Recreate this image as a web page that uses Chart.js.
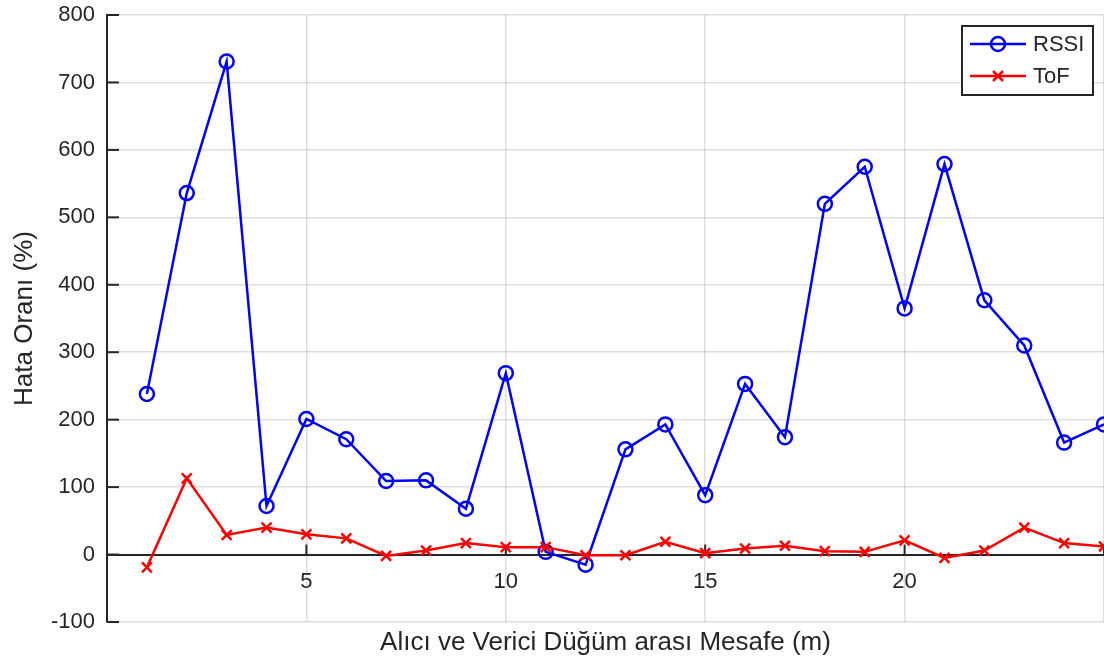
<!DOCTYPE html>
<html>
<script src="https://cdn.jsdelivr.net/npm/chart.js@4/dist/chart.umd.min.js"></script>
<body style="margin:0;background:#fff">

<div style="width:1104px;height:664px"><canvas id="myChart" width="1104" height="664"></canvas></div>

<script>
var distances = [1,2,3,4,5,6,7,8,9,10,11,12,13,14,15,16,17,18,19,20,21,22,23,24,25];
var rssiErr = [238,536,731,72,201,171,109,110,68,269,4,-15,156,193,88,253,174,520,575,365,579,377,310,166,193];
var tofErr = [-19,113,29,40,30,24,-2,6,17,11,11,-1,-1,19,2,9,13,5,4,21,-5,6,40,17,12];
var xTickLabels = [5,10,15,20];
var xTitle = "Alıcı ve Verici Düğüm arası Mesafe (m)";
var yTitle = "Hata Oranı (%)";

var textColor = "#262626";
var font = "'Liberation Sans', Arial, sans-serif";

function points(vals) {
  return vals.map((v, i) => ({x: distances[i], y: v}));
}

// inward ticks, axis titles and the boxed legend (MATLAB style)
var extras = {
  id: "extras",
  beforeDatasetsDraw(chart) {
    var ctx = chart.ctx, a = chart.chartArea;
    var xs = chart.scales.x, ys = chart.scales.y;
    ctx.save();
    ctx.strokeStyle = textColor;
    ctx.lineWidth = 2;
    var y0 = ys.getPixelForValue(0);
    xTickLabels.concat([25]).forEach((t) => {
      var px = xs.getPixelForValue(t);
      ctx.beginPath(); ctx.moveTo(px, y0); ctx.lineTo(px, y0 - 10); ctx.stroke();
    });
    ys.ticks.forEach((t) => {
      var py = ys.getPixelForValue(t.value);
      ctx.beginPath(); ctx.moveTo(a.left, py); ctx.lineTo(a.left + 12, py); ctx.stroke();
    });
    ctx.restore();
  },
  afterDraw(chart) {
    var ctx = chart.ctx, a = chart.chartArea;
    ctx.save();
    ctx.fillStyle = textColor;
    ctx.font = "26px " + font;
    ctx.textAlign = "center";
    ctx.textBaseline = "middle";
    ctx.fillText(xTitle, (a.left + a.right) / 2, 643);
    ctx.translate(25, (a.top + a.bottom) / 2);
    ctx.rotate(-Math.PI / 2);
    ctx.fillText(yTitle, 0, 0);
    ctx.restore();

    // legend
    ctx.save();
    ctx.fillStyle = "#fff";
    ctx.fillRect(962, 26, 131, 69);
    ctx.strokeStyle = textColor;
    ctx.lineWidth = 2;
    ctx.strokeRect(962, 26, 131, 69);
    chart.data.datasets.forEach((ds, i) => {
      var ly = i === 0 ? 44 : 76;
      ctx.strokeStyle = ds.borderColor;
      ctx.lineWidth = 2.5;
      ctx.beginPath(); ctx.moveTo(970, ly); ctx.lineTo(1026, ly); ctx.stroke();
      ctx.beginPath();
      if (ds.pointStyle === "circle") {
        ctx.arc(998, ly, 7, 0, Math.PI * 2);
      } else {
        ctx.moveTo(993, ly - 5); ctx.lineTo(1003, ly + 5);
        ctx.moveTo(993, ly + 5); ctx.lineTo(1003, ly - 5);
      }
      ctx.stroke();
      ctx.fillStyle = textColor;
      ctx.font = "22px " + font;
      ctx.textAlign = "left";
      ctx.textBaseline = "middle";
      ctx.fillText(ds.label, 1033, ly + 1);
    });
    ctx.restore();
  }
};

var chart = new Chart("myChart", {
  type: "line",
  data: {
    datasets: [{
      label: "RSSI",
      data: points(rssiErr),
      borderColor: "#0000ff",
      backgroundColor: "rgba(0,0,0,0)",
      borderWidth: 2.5,
      pointStyle: "circle",
      pointRadius: 7,
      pointBorderWidth: 2.5,
      order: 1
    }, {
      label: "ToF",
      data: points(tofErr),
      borderColor: "#ff0000",
      backgroundColor: "rgba(0,0,0,0)",
      borderWidth: 2.5,
      pointStyle: "crossRot",
      pointRadius: 7,
      pointBorderWidth: 2.5,
      order: 0
    }]
  },
  options: {
    responsive: false,
    animation: false,
    layout: {autoPadding: false, padding: {left: 0, top: 15, right: 0, bottom: 42}},
    plugins: {legend: {display: false}, tooltip: {enabled: false}},
    scales: {
      x: {
        type: "linear",
        position: {y: 0},
        min: 0,
        max: 25,
        grid: {color: "rgba(38,38,38,0.15)", lineWidth: 1.5, drawTicks: false},
        border: {color: textColor, width: 2},
        ticks: {
          stepSize: 5,
          autoSkip: false,
          maxRotation: 0,
          padding: 14,
          color: textColor,
          font: {family: font, size: 22},
          callback: (v) => xTickLabels.includes(v) ? String(v) : ""
        },
        afterFit: (s) => { s.paddingLeft = 0; s.paddingRight = 0; }
      },
      y: {
        min: -100,
        max: 800,
        grid: {color: "rgba(38,38,38,0.15)", lineWidth: 1.5, drawTicks: false},
        border: {color: textColor, width: 2},
        ticks: {stepSize: 100, padding: 12, color: textColor, font: {family: font, size: 22}},
        afterFit: (s) => { s.width = 107; s.paddingTop = 0; s.paddingBottom = 0; }
      }
    }
  },
  plugins: [extras]
});
</script>

</body>
</html>
